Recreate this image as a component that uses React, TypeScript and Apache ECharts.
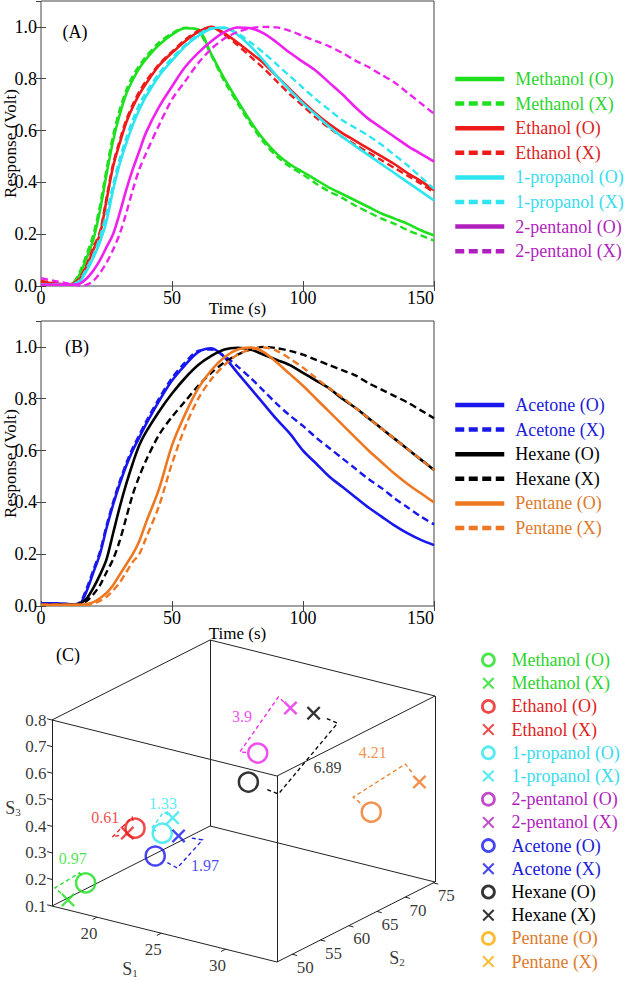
import React, { useEffect, useRef } from 'react';
import * as echarts from 'echarts';

const FONT = "'Liberation Serif', 'Times New Roman', Times, serif";
const FRAME = '#444';

// ---------------- data: panels A and B (time in s, response in V) ----------------
const time = [0, 5, 10, 12.5, 15, 17.5, 20, 22.5, 25, 27.5, 30, 32.5, 35, 37.5, 40, 45, 50, 55, 60, 65, 70, 75, 80, 85, 90, 95, 100, 105, 110, 115, 120, 125, 130, 135, 140, 145, 150];

const methanolO = [0.005, 0.005, 0.005, 0.012, 0.05, 0.11, 0.18, 0.29, 0.43, 0.56, 0.66, 0.74, 0.795, 0.84, 0.875, 0.93, 0.97, 0.995, 0.99, 0.895, 0.8, 0.715, 0.635, 0.565, 0.51, 0.47, 0.44, 0.41, 0.38, 0.355, 0.33, 0.305, 0.28, 0.26, 0.24, 0.215, 0.195];
const methanolX = [0.005, 0.005, 0.005, 0.015, 0.06, 0.125, 0.2, 0.31, 0.45, 0.58, 0.68, 0.755, 0.81, 0.85, 0.885, 0.94, 0.975, 0.997, 0.985, 0.89, 0.79, 0.705, 0.625, 0.555, 0.5, 0.46, 0.43, 0.395, 0.365, 0.34, 0.31, 0.285, 0.26, 0.24, 0.215, 0.195, 0.175];
const ethanolO = [0.015, 0.01, 0.005, 0.01, 0.03, 0.08, 0.14, 0.2, 0.33, 0.46, 0.55, 0.63, 0.69, 0.74, 0.78, 0.85, 0.9, 0.945, 0.98, 1.0, 0.975, 0.94, 0.9, 0.86, 0.81, 0.76, 0.71, 0.665, 0.625, 0.59, 0.56, 0.53, 0.5, 0.47, 0.435, 0.405, 0.37];
const ethanolX = [0.02, 0.012, 0.005, 0.01, 0.035, 0.085, 0.15, 0.21, 0.34, 0.47, 0.56, 0.64, 0.7, 0.75, 0.79, 0.855, 0.905, 0.95, 0.985, 0.998, 0.97, 0.93, 0.885, 0.84, 0.79, 0.74, 0.695, 0.65, 0.61, 0.575, 0.545, 0.515, 0.485, 0.455, 0.425, 0.395, 0.36];
const propanolO = [0.005, 0.005, 0.005, 0.005, 0.02, 0.06, 0.11, 0.17, 0.25, 0.37, 0.47, 0.55, 0.62, 0.68, 0.73, 0.81, 0.87, 0.925, 0.965, 0.993, 0.998, 0.97, 0.925, 0.87, 0.81, 0.755, 0.705, 0.66, 0.615, 0.575, 0.54, 0.505, 0.47, 0.435, 0.4, 0.365, 0.33];
const propanolX = [0.005, 0.005, 0.005, 0.008, 0.025, 0.07, 0.12, 0.19, 0.28, 0.39, 0.49, 0.57, 0.64, 0.7, 0.745, 0.82, 0.88, 0.93, 0.97, 0.995, 0.995, 0.975, 0.94, 0.9, 0.855, 0.81, 0.765, 0.72, 0.68, 0.64, 0.61, 0.58, 0.545, 0.505, 0.465, 0.42, 0.375];
const pentanol2O = [0.005, 0.005, 0.005, 0.005, 0.01, 0.03, 0.06, 0.1, 0.15, 0.2, 0.28, 0.37, 0.45, 0.52, 0.59, 0.69, 0.77, 0.845, 0.9, 0.945, 0.98, 0.998, 0.995, 0.975, 0.94, 0.9, 0.865, 0.83, 0.785, 0.74, 0.69, 0.645, 0.61, 0.575, 0.54, 0.51, 0.48];
const pentanol2X = [0.03, 0.02, 0.01, 0.005, 0.002, 0.005, 0.02, 0.05, 0.09, 0.14, 0.2, 0.28, 0.37, 0.45, 0.51, 0.62, 0.72, 0.79, 0.86, 0.915, 0.955, 0.98, 0.995, 1.0, 0.998, 0.985, 0.965, 0.945, 0.925, 0.9, 0.87, 0.845, 0.815, 0.785, 0.745, 0.705, 0.665];

const acetoneO = [0.01, 0.01, 0.008, 0.005, 0.01, 0.06, 0.13, 0.2, 0.3, 0.39, 0.47, 0.54, 0.6, 0.65, 0.7, 0.79, 0.87, 0.93, 0.98, 0.995, 0.96, 0.9, 0.84, 0.78, 0.72, 0.665, 0.6, 0.55, 0.5, 0.46, 0.42, 0.38, 0.345, 0.31, 0.28, 0.255, 0.235];
const acetoneX = [0.01, 0.01, 0.008, 0.006, 0.015, 0.07, 0.14, 0.21, 0.31, 0.4, 0.48, 0.55, 0.61, 0.66, 0.71, 0.8, 0.88, 0.94, 0.985, 0.99, 0.965, 0.925, 0.88, 0.83, 0.78, 0.735, 0.695, 0.65, 0.61, 0.57, 0.53, 0.49, 0.455, 0.415, 0.38, 0.345, 0.315];
const hexaneO = [0.005, 0.005, 0.005, 0.005, 0.01, 0.03, 0.07, 0.12, 0.18, 0.28, 0.38, 0.47, 0.55, 0.62, 0.67, 0.75, 0.82, 0.88, 0.93, 0.965, 0.99, 0.997, 0.99, 0.97, 0.95, 0.93, 0.9, 0.87, 0.84, 0.8, 0.765, 0.725, 0.685, 0.645, 0.605, 0.565, 0.525];
const hexaneX = [0.005, 0.005, 0.005, 0.005, 0.008, 0.02, 0.045, 0.08, 0.13, 0.18, 0.25, 0.34, 0.43, 0.5, 0.56, 0.66, 0.73, 0.79, 0.85, 0.9, 0.94, 0.97, 0.99, 1.0, 0.995, 0.985, 0.97, 0.95, 0.93, 0.91, 0.89, 0.86, 0.835, 0.81, 0.785, 0.755, 0.725];
const pentaneO = [0.005, 0.005, 0.005, 0.005, 0.005, 0.008, 0.015, 0.03, 0.05, 0.08, 0.12, 0.16, 0.2, 0.25, 0.32, 0.45, 0.62, 0.74, 0.84, 0.91, 0.96, 0.99, 0.998, 0.98, 0.94, 0.895, 0.85, 0.8, 0.75, 0.7, 0.65, 0.6, 0.555, 0.51, 0.47, 0.435, 0.4];
const pentaneX = [0.005, 0.005, 0.005, 0.005, 0.005, 0.005, 0.01, 0.02, 0.035, 0.06, 0.09, 0.13, 0.17, 0.2, 0.26, 0.385, 0.55, 0.69, 0.8, 0.875, 0.93, 0.97, 0.99, 0.998, 0.985, 0.955, 0.92, 0.88, 0.84, 0.805, 0.765, 0.725, 0.685, 0.645, 0.605, 0.565, 0.525];

const timeAxis = { min: 0, max: 150, interval: 50 };
const respAxis = { min: 0, max: 1.1, interval: 0.2 };

// ---------------- data: panel C (3-D feature space) ----------------
const s1Range = [16.5, 34];
const s2Range = [47.3, 75.3];
const s3Range = [0.1, 0.8];
const s1Ticks = [20, 25, 30];
const s2Ticks = [50, 55, 60, 65, 70, 75];
const s3Ticks = [0.1, 0.2, 0.3, 0.4, 0.5, 0.6, 0.7, 0.8];
const compoundsC = ['Methanol', 'Ethanol', '1-propanol', '2-pentanol', 'Acetone', 'Hexane', 'Pentane'];
const featO = [[18.5, 48.7, 0.196], [20.5, 52.9, 0.381], [22.0, 54.3, 0.365], [23.9, 66.9, 0.554], [23.3, 50.1, 0.34], [24.4, 64.1, 0.481], [31.5, 69.7, 0.393]];
const featX = [[17.5, 47.86, 0.129], [19.9, 52.9, 0.355], [22.2, 55.7, 0.41], [24.6, 71.1, 0.687], [24.5, 51.5, 0.415], [26.4, 71.1, 0.689], [33.4, 73.9, 0.484]];
const distances = ['0.97', '0.61', '1.33', '3.9', '1.97', '6.89', '4.21'];

// ---------------- styles ----------------
const COL = {
  green: '#1fe01f', greenT: '#2ed42e',
  red: '#ee1b1b', redT: '#dd1e1e',
  cyan: '#2de6ef', cyanT: '#38dcee',
  mag: '#ee22ee', purple: '#b01fbe',
  blue: '#1818ee', blueT: '#1a1ad8',
  black: '#000000',
  orange: '#ee7722', orangeT: '#e07a2a', amber: '#ffaa00',
};

type Curve = { name: string; values: number[]; color: string; legendColor: string; textColor: string; dashed: boolean };

const curvesA: Curve[] = [
  { name: 'Methanol (O)', values: methanolO, color: COL.green, legendColor: COL.green, textColor: COL.greenT, dashed: false },
  { name: 'Methanol (X)', values: methanolX, color: COL.green, legendColor: COL.green, textColor: COL.greenT, dashed: true },
  { name: 'Ethanol (O)', values: ethanolO, color: COL.red, legendColor: COL.red, textColor: COL.redT, dashed: false },
  { name: 'Ethanol (X)', values: ethanolX, color: COL.red, legendColor: COL.red, textColor: COL.redT, dashed: true },
  { name: '1-propanol (O)', values: propanolO, color: COL.cyan, legendColor: COL.cyan, textColor: COL.cyanT, dashed: false },
  { name: '1-propanol (X)', values: propanolX, color: COL.cyan, legendColor: COL.cyan, textColor: COL.cyanT, dashed: true },
  { name: '2-pentanol (O)', values: pentanol2O, color: COL.mag, legendColor: COL.purple, textColor: COL.purple, dashed: false },
  { name: '2-pentanol (X)', values: pentanol2X, color: COL.mag, legendColor: COL.purple, textColor: COL.purple, dashed: true },
];
const curvesB: Curve[] = [
  { name: 'Acetone (O)', values: acetoneO, color: COL.blue, legendColor: COL.blue, textColor: COL.blueT, dashed: false },
  { name: 'Acetone (X)', values: acetoneX, color: COL.blue, legendColor: COL.blue, textColor: COL.blueT, dashed: true },
  { name: 'Hexane (O)', values: hexaneO, color: COL.black, legendColor: COL.black, textColor: COL.black, dashed: false },
  { name: 'Hexane (X)', values: hexaneX, color: COL.black, legendColor: COL.black, textColor: COL.black, dashed: true },
  { name: 'Pentane (O)', values: pentaneO, color: COL.orange, legendColor: COL.orange, textColor: COL.orangeT, dashed: false },
  { name: 'Pentane (X)', values: pentaneX, color: COL.orange, legendColor: COL.orange, textColor: COL.orangeT, dashed: true },
];

const cStyle = [
  { plot: COL.green, legend: COL.green, text: COL.greenT },
  { plot: COL.red, legend: COL.red, text: COL.redT },
  { plot: COL.cyan, legend: COL.cyan, text: COL.cyanT },
  { plot: COL.mag, legend: COL.purple, text: COL.purple },
  { plot: COL.blue, legend: COL.blue, text: COL.blueT },
  { plot: COL.black, legend: COL.black, text: COL.black },
  { plot: COL.orange, legend: COL.amber, text: COL.orangeT },
];

// bracket layout (screen-pixel offsets from the O / X markers, and label offset from bracket middle)
const bracketLayout = [
  { dO: [-6, -10], dX: [-13, -12], lab: [5.5, -21.5] },
  { dO: [-3, -11], dX: [-15, 4], lab: [-17, -10] },
  { dO: [-11, -4], dX: [-9, -6], lab: [5.5, -17.5] },
  { dO: [-18, -1], dX: [-12, -11], lab: [-17, -7.5] },
  { dO: [22, 12], dX: [24, 4], lab: [15, 12] },
  { dO: [30, 12], dX: [24, 10], lab: [19.5, 8.5] },
  { dO: [-18, -15], dX: [-14, -18], lab: [-6.5, -28.5] },
];

// projected box geometry (grid pixel units)
const BOX = { o: [52, 286], v1: [225, 56], v2: [158, -80], v3: [0, -186] };

const XPATH = 'path://M0,1.2L1.2,0L5,3.8L8.8,0L10,1.2L6.2,5L10,8.8L8.8,10L5,6.2L1.2,10L0,8.8L3.8,5Z';

function proj(p: number[]): number[] {
  const a = (p[0] - s1Range[0]) / (s1Range[1] - s1Range[0]);
  const b = (p[1] - s2Range[0]) / (s2Range[1] - s2Range[0]);
  const c = (p[2] - s3Range[0]) / (s3Range[1] - s3Range[0]);
  return [
    BOX.o[0] + a * BOX.v1[0] + b * BOX.v2[0] + c * BOX.v3[0],
    BOX.o[1] + a * BOX.v1[1] + b * BOX.v2[1] + c * BOX.v3[1],
  ];
}
const add = (p: number[], d: number[], k = 1) => [p[0] + d[0] * k, p[1] + d[1] * k];
const unit = (v: number[], s = 1) => {
  const l = Math.hypot(v[0], v[1]);
  return [(v[0] / l) * s, (v[1] / l) * s];
};

function buildOption() {
  const series: any[] = [];
  const makeCurve = (c: Curve, axis: number) => ({
    type: 'line', name: c.name, xAxisIndex: axis, yAxisIndex: axis,
    data: time.map((t, i) => [t, c.values[i]]),
    symbol: 'none', smooth: 0.3, color: c.color, silent: true, z: 3,
    lineStyle: { color: c.color, width: c.dashed ? 2.4 : 2.6, type: c.dashed ? [7, 4] : 'solid' },
  });
  curvesA.forEach((c) => series.push(makeCurve(c, 0)));
  curvesB.forEach((c) => series.push(makeCurve(c, 2)));

  // ----- panel C -----
  const corners: number[][] = [];
  for (let b = 0; b < 8; b++) corners.push([s1Range[b & 1], s2Range[(b >> 1) & 1], s3Range[(b >> 2) & 1]]);
  const edges: any[] = [];
  for (let i = 0; i < 8; i++) for (let j = i + 1; j < 8; j++) {
    const x = i ^ j;
    if (x === 1 || x === 2 || x === 4) edges.push({ coords: [proj(corners[i]), proj(corners[j])] });
  }
  const cAx = { xAxisIndex: 4, yAxisIndex: 4 };
  series.push({ type: 'lines', coordinateSystem: 'cartesian2d', ...cAx, silent: true, z: 1,
    lineStyle: { color: '#222', width: 1, opacity: 1 }, data: edges });

  const tickLines: any[] = [];
  const labelsC: any[] = [];
  const labelsS3: any[] = [];
  const d1 = unit([-BOX.v2[0], -BOX.v2[1]], 5);
  const d2 = unit(BOX.v1, 5);
  const d3 = unit([-BOX.v1[0], -BOX.v1[1]], 5);
  s1Ticks.forEach((v) => {
    const p = proj([v, s2Range[0], s3Range[0]]);
    tickLines.push({ coords: [p, add(p, d1)] });
    labelsC.push({ name: String(v), value: add(p, [-8, 16]) });
  });
  s2Ticks.forEach((v) => {
    const p = proj([s1Range[1], v, s3Range[0]]);
    tickLines.push({ coords: [p, add(p, d2)] });
    labelsC.push({ name: String(v), value: add(p, [13, 13]) });
  });
  s3Ticks.forEach((v) => {
    const p = proj([s1Range[0], s2Range[0], v]);
    tickLines.push({ coords: [p, add(p, d3)] });
    labelsS3.push({ name: v.toFixed(1), value: p });
  });
  series.push({ type: 'lines', coordinateSystem: 'cartesian2d', ...cAx, silent: true, z: 1,
    lineStyle: { color: '#222', width: 1, opacity: 1 }, data: tickLines });

  const txt = { fontFamily: FONT, color: '#000', fontSize: 17 };
  series.push({ type: 'scatter', ...cAx, silent: true, symbolSize: 1, itemStyle: { color: 'rgba(0,0,0,0)' },
    label: { show: true, position: 'inside', formatter: '{b}', ...txt }, data: labelsC, z: 2 });
  series.push({ type: 'scatter', ...cAx, silent: true, symbolSize: 1, itemStyle: { color: 'rgba(0,0,0,0)' },
    label: { show: true, position: 'left', distance: 5, formatter: '{b}', ...txt }, data: labelsS3, z: 2 });

  const mid1 = proj([(s1Range[0] + s1Range[1]) / 2, s2Range[0], s3Range[0]]);
  const mid2 = proj([s1Range[1], (s2Range[0] + s2Range[1]) / 2, s3Range[0]]);
  const mid3 = proj([s1Range[0], s2Range[0], (s3Range[0] + s3Range[1]) / 2]);
  series.push({ type: 'scatter', ...cAx, silent: true, symbolSize: 1, itemStyle: { color: 'rgba(0,0,0,0)' },
    label: { show: true, position: 'inside', formatter: (p: any) => `{s|S}{n|${p.name}}`,
      rich: { s: { fontSize: 18, fontFamily: FONT, color: '#000' }, n: { fontSize: 11, fontFamily: FONT, color: '#000', padding: [8, 0, 0, 0] } } },
    data: [
      { name: '1', value: add(mid1, [-34.5, 35]) },
      { name: '2', value: add(mid2, [41, 36]) },
      { name: '3', value: add(mid3, [-39, -5]) },
    ], z: 2 });

  // brackets and distance labels
  const brackets: any[] = [];
  const distLabels: any[] = [];
  compoundsC.forEach((_, i) => {
    const O = proj(featO[i]);
    const X = proj(featX[i]);
    const L = bracketLayout[i];
    const cO = add(O, L.dO);
    const cX = add(X, L.dX);
    brackets.push({ coords: [add(X, L.dX, 0.55), cX, cO, add(O, L.dO, 0.55)],
      lineStyle: { color: cStyle[i].plot, width: 1.3, type: [4, 3], opacity: 1 } });
    const m = [(cO[0] + cX[0]) / 2, (cO[1] + cX[1]) / 2];
    distLabels.push({ name: distances[i], value: add(m, L.lab),
      label: { color: i === 5 ? '#000' : cStyle[i].plot } });
  });
  series.push({ type: 'lines', coordinateSystem: 'cartesian2d', ...cAx, polyline: true, silent: true, z: 2, data: brackets });
  series.push({ type: 'scatter', ...cAx, silent: true, symbolSize: 1, itemStyle: { color: 'rgba(0,0,0,0)' },
    label: { show: true, position: 'inside', formatter: '{b}', fontFamily: FONT, fontSize: 16 }, data: distLabels, z: 2 });

  // markers
  compoundsC.forEach((n, i) => {
    series.push({ type: 'scatter', name: `C:${n} (O)`, ...cAx, silent: true, z: 5, symbol: 'circle', symbolSize: 19,
      itemStyle: { color: 'rgba(0,0,0,0)', borderColor: cStyle[i].plot, borderWidth: 2.5 }, data: [proj(featO[i])] });
    series.push({ type: 'scatter', name: `C:${n} (X)`, ...cAx, silent: true, z: 5, symbol: XPATH, symbolSize: 14,
      itemStyle: { color: cStyle[i].plot, borderWidth: 0 }, data: [proj(featX[i])] });
  });

  const makeX = (gridIndex: number, top: boolean, gap: number) => ({
    type: 'value', gridIndex, position: top ? 'top' : 'bottom', ...timeAxis,
    axisLine: { show: false },
    axisTick: { show: true, inside: true, length: 5, lineStyle: { color: FRAME } },
    axisLabel: top ? { show: false } : { show: true, fontSize: 18, fontFamily: FONT, color: '#000', margin: 3, alignMaxLabel: 'right' },
    splitLine: { show: false },
    name: top ? '' : 'Time (s)', nameLocation: 'middle', nameGap: gap, nameMoveOverlap: false,
    nameTextStyle: { fontSize: 17, fontFamily: FONT, color: '#000' },
  });
  const makeY = (gridIndex: number, right: boolean) => ({
    type: 'value', gridIndex, position: right ? 'right' : 'left', ...respAxis,
    axisLine: { show: false },
    axisTick: { show: true, inside: true, length: 5, lineStyle: { color: FRAME } },
    axisLabel: right ? { show: false } : { show: true, fontSize: 18, fontFamily: FONT, color: '#000', margin: 4, showMaxLabel: false,
      formatter: (v: number) => v.toFixed(1) },
    splitLine: { show: false },
    name: right ? '' : 'Response (Volt)', nameLocation: 'middle', nameGap: 22, nameMoveOverlap: false,
    nameTextStyle: { fontSize: 17, fontFamily: FONT, color: '#000' },
  });

  const lineLegend = (curves: Curve[], top: number) => ({
    orient: 'vertical', left: 453, top, padding: 0, itemGap: 6.6, itemWidth: 49, itemHeight: 14, selectedMode: false,
    textStyle: { fontSize: 18, fontFamily: FONT, padding: [0, 0, 0, 6] },
    data: curves.map((c) => ({
      name: c.name,
      itemStyle: { opacity: 0, color: 'rgba(0,0,0,0)', borderWidth: 0 },
      lineStyle: { color: c.legendColor, width: 4.5, type: c.dashed ? [9, 4.5] : 'solid', opacity: 1 },
      textStyle: { color: c.textColor, fontSize: 18, fontFamily: FONT, padding: [0, 0, 0, 6] },
    })),
  });

  const legendC = {
    orient: 'vertical', left: 481, top: 651, padding: 0, itemGap: 5.2, itemWidth: 12, itemHeight: 12, selectedMode: false,
    formatter: (name: string) => name.replace('C:', ''),
    textStyle: { fontSize: 18, fontFamily: FONT, padding: [0, 0, 0, 12] },
    data: compoundsC.flatMap((n, i) => [
      { name: `C:${n} (O)`, itemStyle: { color: 'rgba(0,0,0,0)', borderColor: cStyle[i].legend, borderWidth: 2.8 },
        textStyle: { color: cStyle[i].text, fontSize: 18, fontFamily: FONT, padding: [0, 0, 0, 12] } },
      { name: `C:${n} (X)`, itemStyle: { color: cStyle[i].legend, borderWidth: 0 },
        textStyle: { color: cStyle[i].text, fontSize: 18, fontFamily: FONT, padding: [0, 0, 0, 12] } },
    ]),
  };

  const panelLabel = (text: string, x: number, y: number) => ({
    type: 'text', x, y, silent: true,
    style: { text, fontSize: 18, fontFamily: FONT, fill: '#000', align: 'center', verticalAlign: 'middle' },
  });

  const gridBase = { show: true, borderColor: FRAME, borderWidth: 1, backgroundColor: 'transparent', containLabel: false, outerBoundsMode: 'none' };

  return {
    animation: false,
    backgroundColor: '#ffffff',
    grid: [
      { ...gridBase, left: 41, top: 1, width: 393, height: 285 },
      { ...gridBase, left: 41, top: 321, width: 393, height: 285 },
      { left: 0, top: 620, width: 460, height: 361, show: false, containLabel: false, outerBoundsMode: 'none' },
    ],
    xAxis: [
      makeX(0, false, 14), makeX(0, true, 0), makeX(1, false, 19), makeX(1, true, 0),
      { type: 'value', gridIndex: 2, min: 0, max: 460, show: false },
    ],
    yAxis: [
      makeY(0, false), makeY(0, true), makeY(1, false), makeY(1, true),
      { type: 'value', gridIndex: 2, min: 0, max: 361, inverse: true, show: false },
    ],
    legend: [lineLegend(curvesA, 70), lineLegend(curvesB, 396), legendC],
    graphic: [panelLabel('(A)', 75, 32), panelLabel('(B)', 77, 347), panelLabel('(C)', 68, 655)],
    series,
  };
}

export default function App() {
  const ref = useRef<HTMLDivElement>(null);
  useEffect(() => {
    if (!ref.current) return;
    const chart = echarts.init(ref.current, undefined, { renderer: 'svg' });
    chart.setOption(buildOption() as any);
    return () => chart.dispose();
  }, []);
  return <div ref={ref} style={{ position: 'fixed', left: 0, top: 0, width: 625, height: 981, background: '#fff' }} />;
}
